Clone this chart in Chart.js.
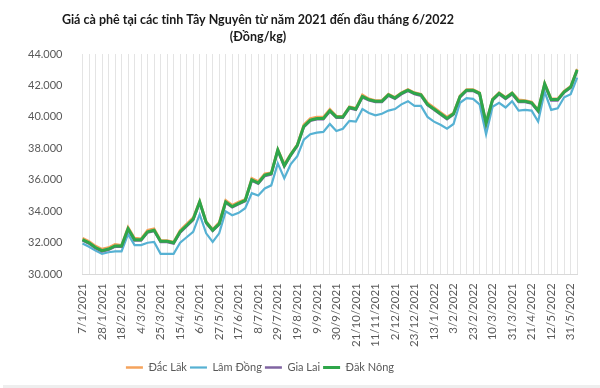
<!DOCTYPE html>
<html lang="vi">
<head>
<meta charset="utf-8">
<title>Giá cà phê Tây Nguyên</title>
<script src="https://cdn.jsdelivr.net/npm/chart.js@4.4.1/dist/chart.umd.min.js"></script>
<style>
    html, body { margin: 0; padding: 0; background: #fff; }
    #wrap { position: relative; width: 600px; height: 388px; }
    #strip { position: absolute; left: 3px; right: 0; bottom: 0; height: 3px; background: #eeeeee; }
</style>
</head>
<body>
<div id="wrap">
    <canvas id="priceChart" width="600" height="388"></canvas>
    <div id="strip"></div>
</div>
<script>
// === Data ===
const tickLabels = [
    "7/1/2021", "28/1/2021", "18/2/2021", "4/3/2021", "25/3/2021", "15/4/2021",
    "6/5/2021", "27/5/2021", "17/6/2021", "8/7/2021", "29/7/2021", "19/8/2021",
    "9/9/2021", "30/9/2021", "21/10/2021", "11/11/2021", "2/12/2021", "23/12/2021",
    "13/1/2022", "3/2/2022", "23/2/2022", "10/3/2022", "31/3/2021", "21/4/2022",
    "12/5/2022", "31/5/2022"
];

const seriesNames = ["Đắc Lăk", "Lâm Đồng", "Gia Lai", "Đăk Nông"];

const dakLak = [
    32300, 32100, 31800, 31600, 31700, 31900, 31850, 33000, 32300, 32250,
    32800, 32900, 32150, 32150, 32050, 32800, 33200, 33600, 34650, 33350,
    32850, 33300, 34700, 34400, 34600, 34750, 36100, 35900, 36400, 36450,
    37950, 37000, 37650, 38250, 39500, 39900, 40000, 40000, 40500, 40050,
    40050, 40650, 40550, 41400, 41150, 41050, 41050, 41450, 41250, 41550,
    41750, 41550, 41450, 40900, 40600, 40300, 40000, 40250, 41350, 41750,
    41750, 41550, 39650, 41150, 41550, 41250, 41550, 41100, 41050, 40950,
    40450, 42150, 41150, 41150, 41650, 41950, 43050
];

const lamDong = [
    31950, 31750, 31500, 31300, 31400, 31450, 31450, 32550, 31850, 31850,
    32000, 32050, 31300, 31300, 31300, 32000, 32350, 32700, 33800, 32600,
    32050, 32600, 34000, 33750, 33900, 34200, 35150, 35000, 35450, 35650,
    37050, 36100, 37000, 37500, 38550, 38900, 39000, 39050, 39550, 39100,
    39250, 39750, 39700, 40500, 40250, 40100, 40200, 40400, 40500, 40800,
    41000, 40700, 40700, 40000, 39700, 39500, 39250, 39550, 40900, 41200,
    41150, 40800, 38900, 40650, 40900, 40600, 41000, 40400, 40450, 40400,
    39700, 41600, 40450, 40550, 41250, 41450, 42500
];

const giaLai = [
    32150, 31950, 31650, 31450, 31550, 31750, 31750, 32850, 32150, 32150,
    32650, 32750, 32050, 32050, 31950, 32650, 33050, 33450, 34550, 33250,
    32750, 33150, 34550, 34250, 34450, 34650, 35950, 35750, 36250, 36350,
    37850, 36850, 37550, 38150, 39350, 39750, 39850, 39850, 40350, 39950,
    39950, 40550, 40450, 41250, 41050, 40950, 40950, 41350, 41150, 41450,
    41650, 41450, 41350, 40750, 40450, 40150, 39850, 40150, 41250, 41650,
    41650, 41450, 39550, 41050, 41450, 41150, 41450, 40950, 40950, 40850,
    40350, 42050, 41050, 41050, 41550, 41850, 42950
];

const dakNong = [
    32200, 32000, 31700, 31500, 31600, 31800, 31800, 32900, 32200, 32200,
    32700, 32800, 32100, 32100, 32000, 32700, 33100, 33500, 34600, 33300,
    32800, 33200, 34600, 34300, 34500, 34700, 36000, 35800, 36300, 36400,
    37900, 36900, 37600, 38200, 39400, 39800, 39900, 39900, 40400, 40000,
    40000, 40600, 40500, 41300, 41100, 41000, 41000, 41400, 41200, 41500,
    41700, 41500, 41400, 40800, 40500, 40200, 39900, 40200, 41300, 41700,
    41700, 41500, 39600, 41100, 41500, 41200, 41500, 41000, 41000, 40900,
    40400, 42100, 41100, 41100, 41600, 41900, 43000
];

// one category per weekly point, a date label on every third one
const labels = dakNong.map((v, i) => (i % 3 === 0 && tickLabels[i / 3]) ? tickLabels[i / 3] : "");

const FONT = "Lato, 'Open Sans', sans-serif";
const TEXT_GREY = "#595959";

// title and legend sit centred a bit left of the canvas middle, as in the source picture
const shiftBlocks = {
    id: "shiftBlocks",
    beforeDraw(chart) {
        if (chart.titleBlock) { chart.titleBlock.left = 0; chart.titleBlock.right = 516; }
        if (chart.legend) { chart.legend.left = 0; chart.legend.right = 520; }
    }
};

function makeDataset(label, data, color, width, order) {
    return {
        label: label,
        data: data,
        borderColor: color,
        backgroundColor: color,
        borderWidth: width,
        pointRadius: 0,
        tension: 0,
        order: order
    };
}

new Chart(document.getElementById("priceChart"), {
    type: "line",
    data: {
        labels: labels,
        datasets: [
            makeDataset(seriesNames[0], dakLak, "#f5a35c", 2.5, 3),
            makeDataset(seriesNames[1], lamDong, "#56b1d3", 2.2, 2),
            makeDataset(seriesNames[2], giaLai, "#8064a2", 2.5, 1),
            makeDataset(seriesNames[3], dakNong, "#2ea64a", 3, 0)
        ]
    },
    options: {
        responsive: false,
        animation: false,
        layout: { padding: { left: 8, right: 17, top: 0, bottom: 5 } },
        plugins: {
            title: {
                display: true,
                text: ["Giá cà phê tại các tỉnh Tây Nguyên từ năm 2021 đến đầu tháng 6/2022", "(Đồng/kg)"],
                color: "#1a1a1a",
                font: { family: FONT, size: 12.5, weight: "bold", lineHeight: 1.4 },
                padding: { top: 11, bottom: 8 }
            },
            legend: {
                position: "bottom",
                labels: {
                    usePointStyle: true,
                    pointStyle: "line",
                    pointStyleWidth: 17,
                    color: TEXT_GREY,
                    font: { family: FONT, size: 11 },
                    padding: 3,
                    sort: (a, b) => a.datasetIndex - b.datasetIndex
                }
            },
            tooltip: { enabled: false }
        },
        scales: {
            x: {
                grid: { display: true, color: "#e4e4e4", drawTicks: false },
                border: { display: true, color: "#d9d9d9" },
                ticks: {
                    autoSkip: false,
                    maxRotation: 90,
                    minRotation: 90,
                    padding: 9,
                    color: TEXT_GREY,
                    font: { family: FONT, size: 11.5 }
                },
                afterFit(scale) { scale.height += 3; }
            },
            y: {
                min: 30000,
                max: 44000,
                grid: { display: false, drawTicks: false },
                border: { display: false },
                ticks: {
                    stepSize: 2000,
                    padding: 20,
                    color: TEXT_GREY,
                    font: { family: FONT, size: 11 },
                    callback: v => (v / 1000).toFixed(3)
                }
            }
        }
    },
    plugins: [shiftBlocks]
});
</script>
</body>
</html>
